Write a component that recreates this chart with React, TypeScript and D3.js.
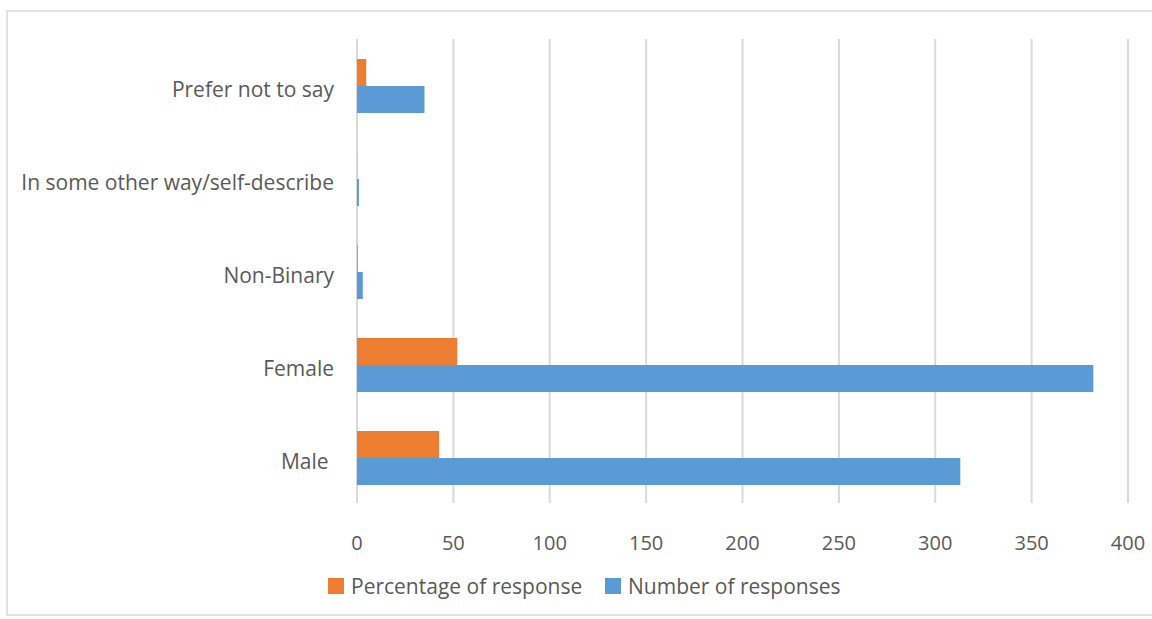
import React from "react";
import * as d3 from "d3";

// Survey responses by gender
const categories = ["Male ", "Female", "Non-Binary", "In some other way/self-describe", "Prefer not to say"];
const responseCounts = [313, 382, 3, 1, 35];
const responsePercentages = [42.6, 52.0, 0.4, 0.1, 4.8];
const seriesNames = ["Percentage of response", "Number of responses"];
const seriesColors = ["#ED7D31", "#5B9BD5"];
const xTicks = [0, 50, 100, 150, 200, 250, 300, 350, 400];

const W = 1152;
const H = 619;
const FONT = "'Open Sans', 'Noto Sans', sans-serif";
const TEXT = "#595959";
const GRID = "#d9d9d9";

export default function App() {
  const x = d3.scaleLinear().domain([0, 400]).range([357, 1128]);
  // top of plot holds the last category
  const y = d3
    .scaleBand<string>()
    .domain([...categories].reverse())
    .range([39.5, 504.5])
    .paddingInner(39 / 93)
    .paddingOuter(19.5 / 93);
  const inner = d3.scaleBand<string>().domain(["pct", "num"]).range([0, y.bandwidth()]);

  const rows = categories.map((c, i) => ({
    c,
    pct: responsePercentages[i],
    num: responseCounts[i],
  }));

  return (
    <svg
      width={W}
      height={H}
      style={{ position: "absolute", left: 0, top: 0, background: "#fff" }}
      fontFamily={FONT}
    >
      <rect x={7} y={11} width={W + 10} height={604} fill="#fff" stroke={GRID} strokeWidth={1.5} />

      {xTicks.map((t) => (
        <line key={t} x1={x(t)} x2={x(t)} y1={39} y2={503} stroke={GRID} strokeWidth={2} />
      ))}

      {rows.map((r) => {
        const y0 = y(r.c)!;
        return (
          <g key={r.c}>
            <rect
              x={x(0)}
              y={y0 + inner("pct")!}
              width={x(r.pct) - x(0)}
              height={inner.bandwidth()}
              fill={seriesColors[0]}
            />
            <rect
              x={x(0)}
              y={y0 + inner("num")!}
              width={x(r.num) - x(0)}
              height={inner.bandwidth()}
              fill={seriesColors[1]}
            />
            <text
              x={334}
              y={y0 + y.bandwidth() / 2 + 11}
              textAnchor="end"
              fontSize={21}
              fill={TEXT}
              style={{ whiteSpace: "pre" }}
            >
              {r.c}
            </text>
          </g>
        );
      })}

      {xTicks.map((t) => (
        <text key={t} x={x(t)} y={550} textAnchor="middle" fontSize={20} fill={TEXT}>
          {t}
        </text>
      ))}

      <g>
        <rect x={328} y={578} width={16} height={16} fill={seriesColors[0]} />
        <text x={351} y={594} fontSize={21} fill={TEXT}>
          {seriesNames[0]}
        </text>
        <rect x={605} y={578} width={16} height={16} fill={seriesColors[1]} />
        <text x={628} y={594} fontSize={21} fill={TEXT}>
          {seriesNames[1]}
        </text>
      </g>
    </svg>
  );
}
